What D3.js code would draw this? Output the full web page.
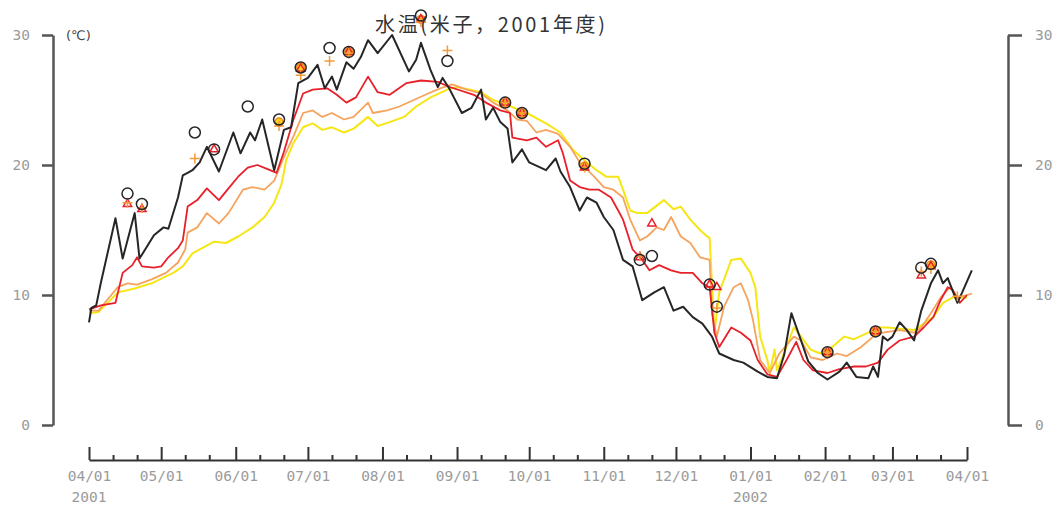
<!DOCTYPE html>
<html><head><meta charset="utf-8">
<script src="https://cdn.jsdelivr.net/npm/d3@7"></script>
<style>
body{margin:0;background:#fff;}
svg{display:block;}
</style></head>
<body>
<svg id="chart" width="1059" height="508"></svg>
<script>
// ---- data (day offset from 2001-04-01, value in ℃) ----
const startDate = new Date(2001, 3, 1);
const endDate = new Date(2002, 3, 1);
const yTicks = [0, 10, 20, 30];
const titleText = "水温(米子，2001年度)";
const unitText = "(℃)";
const yearLabels = [["2001-04-01", "2001"], ["2002-01-01", "2002"]];

const blackSeries = [[0,7.9],[1,9.0],[3,9.2],[5,11.0],[11,15.9],[14,12.8],[19,16.3],[21,12.8],[27,14.6],[31,15.2],[33,15.1],[37,17.5],[39,19.2],[41,19.4],[43,19.6],[46,20.2],[49,21.4],[54,19.5],[60,22.5],[63,20.9],[67,22.5],[69,21.9],[72,23.5],[77,19.6],[81,22.7],[84,22.9],[87,26.3],[91,26.7],[95,27.7],[98,25.9],[101,26.8],[103,25.8],[107,27.9],[110,27.4],[113,28.3],[116,29.6],[120,28.6],[126,30.0],[133,27.2],[136,28.1],[138,29.4],[142,27.3],[145,26.0],[147,26.7],[150,25.8],[155,24.0],[159,24.4],[163,25.8],[165,23.5],[168,24.4],[171,23.3],[174,22.8],[176,20.2],[180,21.2],[183,20.2],[190,19.6],[194,20.5],[196,19.5],[200,18.3],[204,16.5],[207,17.5],[211,17.1],[214,16.0],[218,15.0],[222,12.7],[226,12.2],[230,9.6],[235,10.2],[239,10.6],[243,8.8],[247,9.1],[251,8.3],[255,7.8],[259,6.8],[262,5.5],[268,5.0],[272,4.8],[278,4.1],[282,3.7],[286,3.6],[289,5.4],[292,8.6],[296,6.5],[299,4.9],[303,4.0],[307,3.5],[312,4.1],[315,4.8],[319,3.7],[324,3.6],[326,4.5],[328,3.7],[330,6.8],[332,6.5],[334,6.8],[337,7.9],[340,7.3],[343,6.5],[346,8.8],[350,10.9],[353,11.9],[355,10.9],[357,11.3],[361,9.4],[363,10.2],[367,11.9]];

const redSeries = [[0,8.9],[5,9.2],[11,9.4],[14,11.7],[18,12.3],[20,12.9],[22,12.2],[27,12.1],[30,12.2],[33,12.9],[37,13.6],[39,14.2],[41,16.8],[45,17.3],[49,18.2],[54,17.3],[58,18.2],[62,19.1],[66,19.8],[70,20.0],[74,19.7],[78,19.4],[81,21.0],[85,23.5],[89,25.5],[93,25.8],[99,25.9],[103,25.4],[107,24.8],[111,25.2],[116,26.8],[120,25.6],[125,25.4],[132,26.3],[138,26.5],[145,26.4],[150,26.0],[160,25.4],[165,24.8],[171,24.2],[175,24.0],[176,22.1],[182,21.9],[186,22.1],[190,21.4],[195,21.9],[197,20.9],[200,18.8],[204,18.3],[208,18.1],[212,18.1],[217,17.5],[220,16.5],[222,15.8],[226,13.5],[230,12.7],[233,11.9],[237,12.3],[242,11.9],[246,11.7],[251,11.7],[255,10.9],[258,10.6],[260,7.1],[262,6.0],[267,7.5],[271,7.1],[275,6.5],[278,5.0],[282,3.9],[286,3.7],[290,5.0],[294,6.4],[297,5.0],[301,4.2],[307,4.0],[312,4.3],[318,4.5],[323,4.5],[328,4.8],[332,5.8],[337,6.5],[343,6.8],[347,7.5],[351,8.3],[354,9.6],[357,10.6],[359,10.4],[362,9.4],[365,10.0]];

const orangeSeries = [[0,8.8],[4,8.8],[7,9.5],[12,10.6],[16,10.9],[20,10.8],[26,11.2],[32,11.7],[37,12.5],[40,13.5],[41,14.8],[45,15.2],[49,16.3],[54,15.5],[58,16.3],[64,18.1],[68,18.3],[73,18.1],[77,18.8],[81,20.6],[85,22.2],[89,24.0],[93,24.2],[97,23.7],[101,24.0],[106,23.5],[110,23.7],[116,24.8],[118,24.0],[124,24.2],[129,24.5],[135,25.0],[141,25.5],[146,25.9],[151,26.2],[157,25.8],[163,25.5],[168,24.8],[174,24.2],[178,23.5],[182,23.4],[186,22.5],[190,22.7],[195,22.4],[200,21.4],[204,20.2],[210,19.1],[214,18.3],[218,18.1],[222,17.5],[225,15.8],[229,14.2],[232,14.5],[236,15.2],[239,15.0],[242,16.0],[246,14.5],[250,14.0],[254,12.9],[258,12.7],[259,8.6],[261,6.8],[264,9.1],[268,10.6],[271,10.9],[274,9.6],[276,8.1],[279,5.0],[283,4.0],[287,5.5],[293,6.8],[296,6.5],[300,5.2],[305,5.0],[311,5.5],[315,5.3],[321,6.0],[326,6.8],[330,7.1],[337,7.3],[343,7.1],[346,7.5],[350,8.6],[354,9.8],[358,10.6],[361,9.8],[365,10.0],[367,10.1]];

const yellowSeries = [[0,8.6],[4,8.7],[12,10.2],[19,10.5],[26,10.9],[35,11.7],[39,12.2],[43,13.2],[48,13.7],[52,14.1],[57,14.0],[62,14.5],[68,15.2],[73,16.0],[77,17.1],[80,18.5],[82,20.4],[85,21.7],[89,22.9],[93,23.2],[97,22.7],[101,22.9],[106,22.5],[110,22.8],[116,23.7],[120,23.0],[125,23.3],[131,23.7],[136,24.5],[142,25.2],[149,25.8],[153,26.0],[158,25.8],[163,25.6],[168,25.0],[174,24.6],[182,24.0],[190,23.2],[196,22.5],[201,21.2],[207,20.2],[211,19.6],[215,19.1],[220,19.1],[222,18.1],[225,16.5],[228,16.3],[232,16.3],[239,17.3],[243,16.6],[246,16.8],[250,15.8],[254,15.0],[257,14.5],[258,14.4],[260,7.1],[262,10.2],[267,12.7],[271,12.8],[275,11.7],[277,10.6],[279,6.8],[282,5.0],[283,4.0],[285,5.8],[286,4.2],[290,6.0],[293,7.5],[296,6.8],[300,5.8],[304,5.5],[309,6.0],[314,6.8],[318,6.6],[324,7.1],[328,7.5],[332,7.5],[337,7.4],[343,7.3],[347,7.8],[351,8.3],[355,9.4],[359,9.8],[365,9.8]];

// observations: day offset and values for each marker type (null = none)
const obsDays   = [16, 22, 44, 52, 66, 79, 88, 100, 108, 138, 149, 173, 180, 206, 229, 234, 258, 261, 307, 327, 346, 350, 361];
const obsCircle = [17.8, 17.0, 22.5, 21.2, 24.5, 23.5, 27.5, 29.0, 28.7, 31.5, 28.0, 24.8, 24.0, 20.1, 12.7, 13.0, 10.8, 9.1, 5.6, 7.2, 12.1, 12.4, null];
const obsPlus   = [17.1, 16.7, 20.5, null, null, 23.0, 26.9, 28.0, 28.6, 31.0, 28.8, 24.8, 24.0, 19.8, 13.0, null, null, 9.0, 5.6, 7.2, 11.8, 12.0, 9.9];
const obsTri    = [17.0, 16.6, null, 21.2, null, null, 27.4, null, 28.7, 31.2, null, 24.8, 24.0, 19.8, 12.9, 15.5, 10.8, 10.6, 5.6, 7.2, 11.5, 12.2, null];
const obsDot    = [null, null, null, null, null, 23.3, 27.5, null, 28.7, 31.2, null, 24.8, 24.0, 19.9, null, null, null, null, 5.6, 7.2, null, 12.3, null];

// ---- drawing ----
const svg = d3.select("#chart");
const x = d3.scaleTime().domain([startDate, endDate]).range([89, 967]);
const y = d3.scaleLinear().domain([0, 30]).range([425, 35]);
const dayToDate = d => d3.timeDay.offset(startDate, d);

const axisColor = "#555";
const labelColor = "#9a9a9a";
const monoFont = "'DejaVu Sans Mono', monospace";

// left axis
const leftAxis = svg.append("g").attr("transform", "translate(53,0)")
  .call(d3.axisLeft(y).tickValues(yTicks).tickSize(11).tickPadding(12).tickSizeOuter(0));
// right axis
const rightAxis = svg.append("g").attr("transform", "translate(1008,0)")
  .call(d3.axisRight(y).tickValues(yTicks).tickSize(14).tickPadding(13).tickSizeOuter(0));
[leftAxis, rightAxis].forEach(g => {
  g.select(".domain").attr("stroke", axisColor).attr("stroke-width", 2.5);
  g.selectAll(".tick line").attr("stroke", axisColor).attr("stroke-width", 2.5);
  g.selectAll(".tick text").attr("fill", labelColor).attr("font-family", monoFont).attr("font-size", 14.5);
});

// x axis
const xBase = 460;
const monthTicks = d3.timeMonth.range(startDate, d3.timeDay.offset(endDate, 1));
const minorTicks = d3.timeDay.range(startDate, endDate).filter(d => d.getDate() === 11 || d.getDate() === 21);
const xMajor = svg.append("g").attr("transform", `translate(0,${xBase})`)
  .call(d3.axisTop(x).tickValues(monthTicks).tickSize(13).tickFormat("").tickSizeOuter(0));
xMajor.select(".domain").attr("stroke", "#333").attr("stroke-width", 2);
xMajor.selectAll(".tick line").attr("stroke", "#333").attr("stroke-width", 2);
const xMinor = svg.append("g").attr("transform", `translate(0,${xBase})`)
  .call(d3.axisTop(x).tickValues(minorTicks).tickSize(5).tickFormat(""));
xMinor.select(".domain").remove();
xMinor.selectAll(".tick line").attr("stroke", "#333").attr("stroke-width", 2);
const xLabels = svg.append("g").attr("transform", `translate(0,${xBase})`)
  .call(d3.axisBottom(x).tickValues(monthTicks).tickSize(0).tickPadding(11).tickFormat(d3.timeFormat("%m/%d")));
xLabels.select(".domain").remove();
xLabels.selectAll(".tick text").attr("fill", labelColor).attr("font-family", monoFont).attr("font-size", 14.5);

svg.append("g").selectAll("text").data(yearLabels).join("text")
  .attr("x", d => x(d3.timeParse("%Y-%m-%d")(d[0])))
  .attr("y", 502)
  .attr("text-anchor", "middle")
  .attr("fill", labelColor).attr("font-family", monoFont).attr("font-size", 14.5)
  .text(d => d[1]);

// lines
const line = d3.line().x(d => x(dayToDate(d[0]))).y(d => y(d[1]));
const seriesDefs = [
  {data: yellowSeries, color: "#f6e614", width: 2},
  {data: orangeSeries, color: "#f6a35e", width: 1.8},
  {data: redSeries, color: "#e8202a", width: 1.8},
  {data: blackSeries, color: "#262626", width: 2}
];
svg.append("g").selectAll("path").data(seriesDefs).join("path")
  .attr("d", d => line(d.data))
  .attr("fill", "none")
  .attr("stroke", d => d.color)
  .attr("stroke-width", d => d.width)
  .attr("stroke-linejoin", "round");

// observation markers
const obs = obsDays.map((d, i) => ({day: d, c: obsCircle[i], p: obsPlus[i], t: obsTri[i], o: obsDot[i]}));
const mk = svg.append("g");
mk.selectAll("circle.dot").data(obs.filter(d => d.o != null)).join("circle")
  .attr("class", "dot")
  .attr("cx", d => x(dayToDate(d.day))).attr("cy", d => y(d.o)).attr("r", 4)
  .attr("fill", "#ffd21a").attr("stroke", "#f08a1c").attr("stroke-width", 1.5);
mk.selectAll("path.tri").data(obs.filter(d => d.t != null)).join("path")
  .attr("class", "tri")
  .attr("transform", d => `translate(${x(dayToDate(d.day))},${y(d.t)})`)
  .attr("d", d3.symbol(d3.symbolTriangle, 30))
  .attr("fill", "none").attr("stroke", "#e8202a").attr("stroke-width", 1.5);
mk.selectAll("path.plus").data(obs.filter(d => d.p != null)).join("path")
  .attr("class", "plus")
  .attr("transform", d => `translate(${x(dayToDate(d.day))},${y(d.p)})`)
  .attr("d", "M-5,0H5M0,-5V5")
  .attr("fill", "none").attr("stroke", "#f39a3a").attr("stroke-width", 1.5);
mk.selectAll("circle.ring").data(obs.filter(d => d.c != null)).join("circle")
  .attr("class", "ring")
  .attr("cx", d => x(dayToDate(d.day))).attr("cy", d => y(d.c)).attr("r", 5.5)
  .attr("fill", "none").attr("stroke", "#262626").attr("stroke-width", 1.5);

// title and unit
svg.append("text").attr("x", 375).attr("y", 32)
  .attr("font-family", "'Noto Sans CJK JP', sans-serif").attr("font-size", 20)
  .attr("fill", "#333").attr("textLength", 230).attr("lengthAdjust", "spacing")
  .text(titleText);
svg.append("text").attr("x", 66).attr("y", 40)
  .attr("font-family", "'DejaVu Sans', sans-serif").attr("font-size", 13)
  .attr("fill", "#444").text(unitText);
</script>
</body></html>
